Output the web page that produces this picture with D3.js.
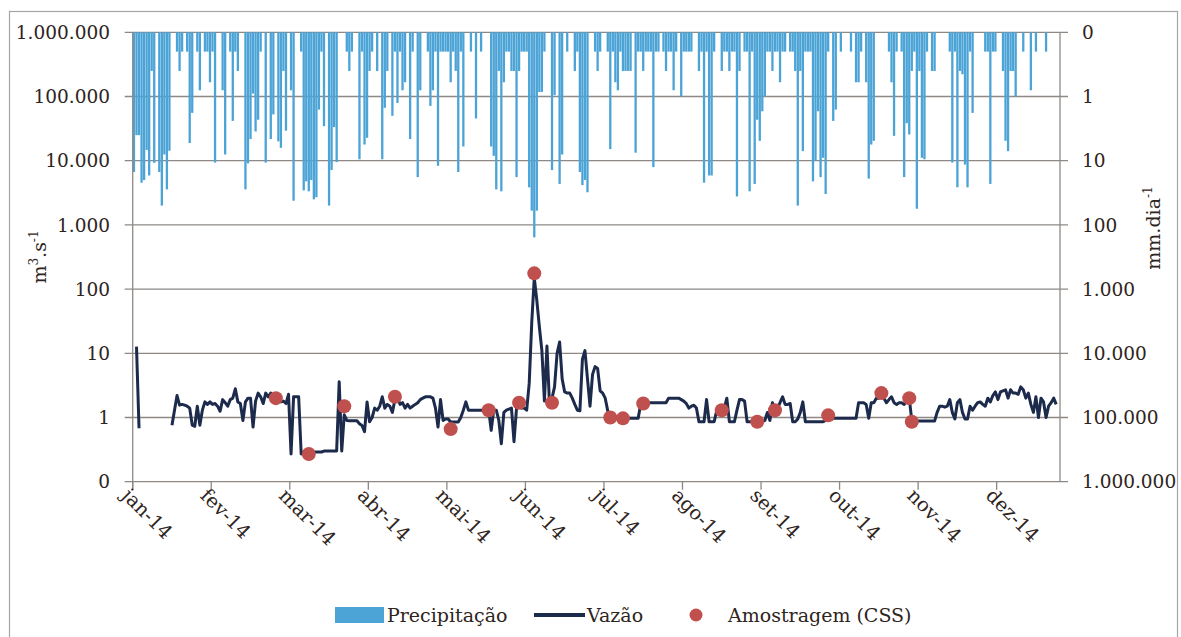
<!DOCTYPE html>
<html>
<head>
<meta charset="utf-8">
<script src="https://cdn.jsdelivr.net/npm/d3@7"></script>
<style>
  html, body { margin: 0; padding: 0; background: #fff; }
  svg { display: block; }
  text { font-family: "DejaVu Serif", "Liberation Serif", serif; fill: #2e2420; }
</style>
</head>
<body>
<svg id="chart" width="1181" height="637"></svg>
<script>
// Precipitação diária (mm.dia-1) em 2014, um vetor por mês
const precJan = [15, 4, 4, 22, 20, 6.8, 17, 0.4, 10.8, 0, 15, 50, 8, 28, 7, 0, 0, 0.2, 0.4, 0.2, 0, 0.2, 5.3, 1.8, 0, 0.2, 0.8, 0, 0.2, 0.2, 0.6];
const precFev = [0.2, 10.7, 0, 0, 0.8, 8, 0, 0.2, 2.4, 0.2, 0.4, 0, 0, 28, 11, 4.6, 0.9, 3.5, 2.3, 0.2, 0, 10.7, 0, 4.6, 1.9, 0, 5, 6.3];
const precMar = [0.4, 3.4, 0, 0.8, 42, 0, 0, 0.2, 29, 21, 30, 20, 40, 37, 1.6, 0.2, 2.9, 0, 50, 14, 3, 10.5, 0, 0, 0, 0.2, 0.4, 0.2, 0, 0, 9.5];
const precAbr = [0.2, 5.6, 4.4, 0.4, 0.2, 0, 0.4, 0, 9.5, 1.5, 0.4, 0, 2.0, 0.2, 1.26, 0.2, 0.8, 0.6, 0, 4.6, 0.2, 0, 18, 0.8, 0, 0, 0.2, 1.4, 0.8, 0.2];
const precMai = [12, 0.2, 0.2, 0.2, 0.2, 0.6, 0.2, 0.4, 15, 0.2, 6, 0, 0, 0.2, 0, 2.2, 0, 0.2, 0, 0, 0, 6, 8.4, 28, 0.4, 30, 0.6, 0.2, 0.2, 0.4, 0.4];
const precJun = [18, 0.4, 0.2, 0.2, 0.2, 26, 60, 156, 60, 0.85, 0.85, 0.2, 0, 0, 14, 0.95, 0, 23, 8, 0, 0.2, 0, 0, 0.4, 0.2, 15, 24, 20, 31, 0];
const precJul = [0, 0.2, 0.4, 0.2, 0, 0, 0.2, 6.6, 0.2, 0.6, 0.8, 0.2, 0.4, 0.4, 0.4, 0.4, 0, 7.5, 0.2, 0.2, 0.4, 0.2, 0.2, 0.2, 12.6, 0.2, 0.2, 0, 0.2, 0.4, 0.2];
const precAgo = [0.2, 0.8, 0.2, 0, 1.0, 0.2, 0.2, 0.2, 0.2, 0, 0, 0.4, 0.2, 22, 0.2, 17, 17, 0.2, 0, 0, 0.4, 0.2, 0.2, 0.4, 0.2, 0.2, 36, 0.4, 0, 0.2, 0.2];
const precSet = [30, 0.2, 23, 2.3, 4.9, 1.7, 1.0, 0.2, 0.2, 0.4, 0.2, 0.2, 0.6, 0.2, 0.2, 0, 0.2, 0.2, 0.4, 50, 0.4, 7.1, 0.2, 0.2, 0.2, 21, 10, 1.7, 18, 9];
const precOut = [33, 0.2, 0, 2.4, 1.6, 0, 0.2, 0, 0, 0, 0.2, 0, 0.6, 0.6, 0.2, 0, 0.6, 19, 5.6, 4.9, 0, 0, 0, 0, 0, 0.2, 0.6, 4.1, 0.2, 0, 0.2];
const precNov = [18, 2.6, 3.9, 0.4, 0.2, 56, 0.4, 9, 9.5, 0.2, 0, 0.4, 0.4, 0, 0, 0, 0, 0, 0.2, 10.7, 0.2, 26, 0.4, 0.45, 11.5, 26, 0.2, 1.8, 0, 0];
const precDez = [0, 0, 0.2, 0.2, 23, 0.2, 0.2, 0, 0, 0.4, 4.9, 7.1, 0.4, 0.4, 1.0, 0, 0, 0.2, 0, 0, 0.8, 0, 0.2, 0, 0, 0, 0.2, 0, 0, 0, 0];

// Vazão média diária (m3.s-1); null = sem registro
const vazJan = [null, 12.7, 0.68, null, null, null, null, null, null, null, null, null, null, null, null, 0.76, 1.3, 2.2, 1.56, 1.6, 1.56, 1.5, 1.4, 0.76, 0.73, 1.5, 0.76, 1.3, 1.75, 1.6, 1.75];
const vazFev = [1.6, 1.65, 1.5, 1.25, 1.9, 1.7, 1.5, 1.9, 2.0, 2.8, 1.75, 1.65, 0.9, 1.75, 2.0, 2.0, 0.71, 1.8, 2.4, 2.1, 1.65, 2.4, 2.1, 2.4, 2.1, 2.2, 1.9, 1.75];
const vazMar = [1.8, 1.65, 2.3, 0.27, 2.1, 2.1, 2.1, 0.27, 0.29, 0.29, 0.29, 0.29, 0.29, 0.29, 0.29, 0.29, 0.3, 0.3, 0.3, 0.3, 0.3, 0.3, 3.6, 0.3, 1.1, 0.9, 0.89, 0.89, 0.89, 0.89, 0.8];
const vazAbr = [0.75, 0.6, 1.75, 0.86, 1.0, 1.4, 1.3, 1.5, 2.1, 1.4, 1.6, 1.5, 1.2, 1.9, 2.1, 1.6, 1.7, 1.4, 1.6, 1.4, 1.5, 1.6, 1.7, 1.9, 2.0, 2.1, 2.1, 2.1, 2.0, 1.4];
const vazMai = [0.71, 1.9, 0.9, 0.95, 0.95, 0.85, 0.85, 0.85, 0.85, 1.0, 1.3, 1.75, 1.3, 1.3, 1.3, 1.3, 1.3, 1.3, 1.3, 1.3, 1.3, 0.63, 1.3, 1.3, 0.9, 0.39, 1.2, 1.3, 1.35, 1.4, 0.42];
const vazJun = [1.4, 1.45, 1.4, 1.4, 1.3, 3.4, 30, 150, 67, 26, 11, 1.8, 13, 1.65, 2.0, 3.0, 10, 15, 4, 2.5, 2.4, 2.4, 2.0, 1.6, 1.3, 1.27, 8, 11, 4, 1.5];
const vazJul = [4.7, 6.2, 5.8, 2.6, 2.4, 2.0, 1.27, 1.0, 0.97, 0.97, 0.97, 0.97, 0.97, 0.97, 0.97, 0.97, 0.97, 0.97, 0.97, 1.6, 1.7, 1.7, 1.7, 1.7, 1.7, 1.7, 1.7, 1.7, 1.7, 1.7, 2.0];
const vazAgo = [2.0, 2.0, 2.0, 2.0, 1.9, 1.8, 1.65, 1.4, 1.5, 1.55, 1.4, 0.86, 0.86, 0.86, 1.9, 0.86, 0.86, 0.86, 1.27, 1.3, 1.3, 1.4, 2.0, 0.86, 0.86, 0.86, 1.3, 1.9, 1.9, 1.8, 0.86];
const vazSet = [0.86, 0.86, 0.86, 0.86, 0.86, 0.86, 0.9, 1.2, 0.9, 1.7, 1.3, 1.4, 1.7, 2.1, 1.6, 1.6, 1.65, 0.86, 0.86, 0.95, 1.2, 1.75, 0.86, 0.86, 0.86, 0.86, 0.86, 0.86, 0.86, 0.86];
const vazOut = [0.9, 0.95, 0.97, 0.97, 0.97, 0.97, 0.97, 0.97, 0.97, 0.97, 0.97, 0.97, 0.97, 1.7, 1.7, 1.7, 1.6, 0.97, 1.7, 1.7, 2.0, 2.0, 2.2, 2.0, 1.7, 1.9, 2.1, 1.7, 1.6, 1.7, 1.7];
const vazNov = [1.6, 1.8, 2.0, 0.9, 0.88, 0.88, 0.88, 0.88, 0.88, 0.88, 0.88, 0.88, 0.88, 1.2, 1.5, 1.5, 1.45, 1.5, 1.9, 1.2, 0.95, 1.7, 1.9, 1.2, 0.95, 0.95, 1.5, 1.3, 1.5, 1.7];
const vazDez = [1.75, 1.6, 1.5, 2.0, 1.75, 2.2, 2.5, 1.9, 2.5, 2.6, 2.7, 2.0, 2.7, 2.4, 2.4, 2.3, 3.0, 2.7, 2.0, 2.4, 1.6, 1.2, 2.1, 1.0, 2.0, 1.75, 1.0, 1.5, 1.7, 2.0, 1.6];

// Coletas de concentração de sedimentos em suspensão (CSS)
const amostragemDatas = ["2014-02-26", "2014-03-11", "2014-03-25", "2014-04-14", "2014-05-06", "2014-05-21", "2014-06-02", "2014-06-08", "2014-06-15", "2014-07-08", "2014-07-13", "2014-07-21", "2014-08-21", "2014-09-04", "2014-09-11", "2014-10-02", "2014-10-23", "2014-11-03", "2014-11-04"];
const amostragemVazao = [2.0, 0.27, 1.5, 2.1, 0.66, 1.3, 1.7, 176, 1.7, 1.0, 0.97, 1.65, 1.3, 0.86, 1.3, 1.08, 2.4, 2.0, 0.86];

// Rótulos dos eixos
const rotulosMeses = ["jan-14", "fev-14", "mar-14", "abr-14", "mai-14", "jun-14", "jul-14", "ago-14", "set-14", "out-14", "nov-14", "dez-14"];
const ticksLog = [0.1, 1, 10, 100, 1000, 10000, 100000, 1000000];
const legendaItens = ["Precipitação", "Vazão", "Amostragem (CSS)"];

const precipitacao = [].concat(precJan, precFev, precMar, precAbr, precMai, precJun, precJul, precAgo, precSet, precOut, precNov, precDez);
const vazao = [].concat(vazJan, vazFev, vazMar, vazAbr, vazMai, vazJun, vazJul, vazAgo, vazSet, vazOut, vazNov, vazDez);

const inicio = new Date(Date.UTC(2014, 0, 1));
const diaDe = i => d3.utcDay.offset(inicio, i);
const parse = d3.utcParse("%Y-%m-%d");

const svg = d3.select("#chart");
const W = 1181, H = 637;
const plot = { left: 132.7, right: 1060, top: 32.3, bottom: 481.7 };

const colors = {
  bar: "#4ba3d6",
  line: "#1c2a4c",
  marker: "#c0504d",
  grid: "#8e8985",
  frame: "#a6a6a6"
};

// moldura externa
svg.append("rect").attr("x", 0).attr("y", 0).attr("width", W).attr("height", H).attr("fill", "#fff");
svg.append("rect").attr("x", 9.5).attr("y", 11.5).attr("width", 1168).attr("height", 640)
  .attr("fill", "none").attr("stroke", colors.frame).attr("stroke-width", 1.2);

const x = d3.scaleUtc().domain([inicio, diaDe(366)]).range([plot.left, plot.right]);
const yQ = d3.scaleLog().domain([0.1, 1e6]).range([plot.bottom, plot.top]);
const yP = d3.scaleLog().domain([0.1, 1e6]).range([plot.top, plot.bottom]);

const ptBR = d3.formatLocale({ decimal: ",", thousands: ".", grouping: [3], currency: ["R$", ""] });
const fmt = ptBR.format(",d");
const rotulo = v => v < 1 ? "0" : fmt(v);

// linhas de grade horizontais (com marcas para fora dos dois eixos)
svg.append("g").selectAll("line").data(ticksLog).join("line")
  .attr("x1", plot.left - 8).attr("x2", plot.right + 8)
  .attr("y1", d => yQ(d)).attr("y2", d => yQ(d))
  .attr("stroke", colors.grid).attr("stroke-width", 1.3);

// precipitação: barras penduradas no topo, escala log invertida
const slot = x(diaDe(1)) - x(diaDe(0));
const barW = 2.3;
svg.append("g").selectAll("rect")
  .data(precipitacao.map((v, i) => ({ v, d: diaDe(i) })).filter(p => p.v > 0.1))
  .join("rect")
  .attr("x", p => x(p.d) + (slot - barW) / 2)
  .attr("y", plot.top)
  .attr("width", barW)
  .attr("height", p => yP(p.v) - plot.top)
  .attr("fill", colors.bar);

// eixos verticais
svg.append("line").attr("x1", plot.left).attr("x2", plot.left).attr("y1", plot.top).attr("y2", plot.bottom + 8)
  .attr("stroke", colors.grid).attr("stroke-width", 1.3);
svg.append("line").attr("x1", plot.right).attr("x2", plot.right).attr("y1", plot.top).attr("y2", plot.bottom)
  .attr("stroke", colors.grid).attr("stroke-width", 1.3);

// marcas mensais no eixo x (intervalo de 31 dias)
const ticksX = rotulosMeses.map((r, i) => ({ r, d: diaDe(31 * i) }));
svg.append("g").selectAll("line").data(ticksX).join("line")
  .attr("x1", t => x(t.d)).attr("x2", t => x(t.d))
  .attr("y1", plot.bottom).attr("y2", plot.bottom + 8)
  .attr("stroke", colors.grid).attr("stroke-width", 1.3);

svg.append("g").selectAll("text").data(ticksX).join("text")
  .attr("transform", t => `translate(${x(t.d) - 12},${plot.bottom + 15}) rotate(45)`)
  .attr("font-size", 19.5)
  .text(t => t.r);

// rótulos do eixo esquerdo (vazão) e direito (precipitação)
svg.append("g").selectAll("text").data(ticksLog).join("text")
  .attr("x", 110).attr("y", d => yQ(d)).attr("dy", "0.36em")
  .attr("text-anchor", "end").attr("font-size", 18.5)
  .text(rotulo);
svg.append("g").selectAll("text").data(ticksLog).join("text")
  .attr("x", 1082).attr("y", d => yP(d)).attr("dy", "0.36em")
  .attr("text-anchor", "start").attr("font-size", 18.5)
  .text(rotulo);

// títulos dos eixos
const tEsq = svg.append("text").attr("transform", "translate(46,257) rotate(-90)")
  .attr("text-anchor", "middle").attr("font-size", 19);
tEsq.append("tspan").text("m");
tEsq.append("tspan").attr("dy", -8).attr("font-size", 12).text("3");
tEsq.append("tspan").attr("dy", 8).text(".s");
tEsq.append("tspan").attr("dy", -8).attr("font-size", 12).text("-1");

const tDir = svg.append("text").attr("transform", "translate(1160,228) rotate(-90)")
  .attr("text-anchor", "middle").attr("font-size", 19);
tDir.append("tspan").text("mm.dia");
tDir.append("tspan").attr("dy", -8).attr("font-size", 12).text("-1");

// vazão
const linha = d3.line()
  .defined(d => d.v != null)
  .x(d => x(d.d) + slot / 2)
  .y(d => yQ(d.v));
svg.append("path")
  .datum(vazao.map((v, i) => ({ v, d: diaDe(i) })))
  .attr("d", linha)
  .attr("fill", "none").attr("stroke", colors.line).attr("stroke-width", 3)
  .attr("stroke-linejoin", "round");

// amostragens
svg.append("g").selectAll("circle")
  .data(amostragemDatas.map((s, i) => ({ d: parse(s), v: amostragemVazao[i] })))
  .join("circle")
  .attr("cx", p => x(p.d) + slot / 2)
  .attr("cy", p => yQ(p.v))
  .attr("r", 7)
  .attr("fill", colors.marker);

// legenda
const lg = svg.append("g").attr("transform", "translate(0,615)");
lg.append("rect").attr("x", 335).attr("y", -8).attr("width", 49).attr("height", 16).attr("fill", colors.bar);
lg.append("text").attr("x", 387).attr("y", 0).attr("dy", "0.35em").attr("font-size", 19).text(legendaItens[0]);
lg.append("line").attr("x1", 534).attr("x2", 585).attr("y1", 0).attr("y2", 0)
  .attr("stroke", colors.line).attr("stroke-width", 4);
lg.append("text").attr("x", 587).attr("y", 0).attr("dy", "0.35em").attr("font-size", 19).text(legendaItens[1]);
lg.append("circle").attr("cx", 696).attr("cy", 0).attr("r", 6.5).attr("fill", colors.marker);
lg.append("text").attr("x", 728).attr("y", 0).attr("dy", "0.35em").attr("font-size", 19).text(legendaItens[2]);
</script>
</body>
</html>
